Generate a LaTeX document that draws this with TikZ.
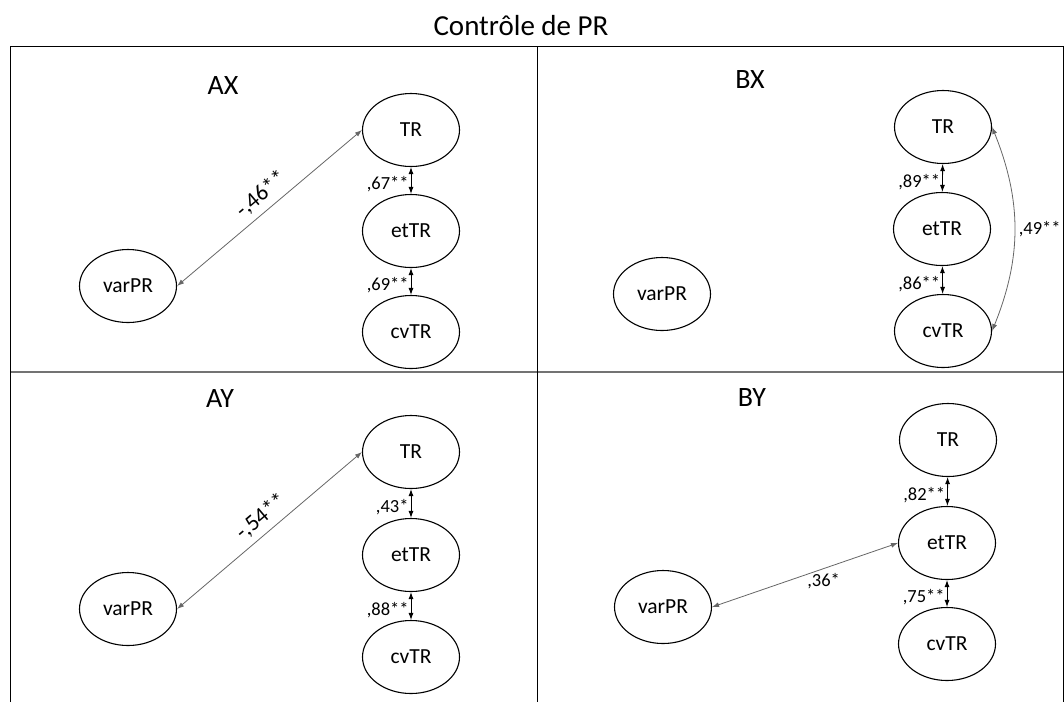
\documentclass[tikz,border=0pt]{standalone}
\usepackage{fontspec}
\setmainfont{Carlito}
\usetikzlibrary{arrows.meta,shapes.geometric}
\begin{document}
\begin{tikzpicture}[x=1pt,y=-1pt,
  lat/.style={draw=black,line width=1.1pt,ellipse,minimum width=97pt,minimum height=73pt,inner sep=0pt,font=\fontsize{21.5}{24}\selectfont},
  frame/.style={draw=black,line width=1pt},
  divider/.style={draw=black!55,line width=1.6pt},
  darr/.style={draw=black,line width=0.9pt,{Latex[length=7pt,width=5pt]}-{Latex[length=7pt,width=5pt]}},
  garr/.style={draw=black!60,line width=0.8pt,{Latex[length=7pt,width=5pt]}-{Latex[length=7pt,width=5pt]}},
  coef/.style={font=\fontsize{18.5}{21}\selectfont,inner sep=1pt},
  bigcoef/.style={font=\fontsize{23}{26}\selectfont,inner sep=2pt},
  panel/.style={font=\fontsize{28}{31}\selectfont},
  ttl/.style={font=\fontsize{29}{32}\selectfont}
]
\useasboundingbox (0,0) rectangle (1064,702);
% frame
\coordinate (fbl) at (10,702);
\coordinate (ftl) at (10,46);
\coordinate (ftr) at (1063,46);
\coordinate (fbr) at (1063,702);
\coordinate (mt) at (537,46);
\coordinate (mb) at (537,702);
\coordinate (hl) at (10,372);
\coordinate (hr) at (1063,372);
\draw[divider] (hl) -- (hr);
\draw[frame] (fbl) -- (ftl) -- (ftr) -- (fbr);
\draw[frame] (mt) -- (mb);
\node[ttl] (title) at (521,26) {Contrôle de PR};

% ---------- AX ----------
\node[panel] (lAX) at (223,86) {AX};
\node[lat] (TR1) at (411,130) {TR};
\node[lat] (et1) at (411,231) {etTR};
\node[lat] (cv1) at (411,332) {cvTR};
\node[lat] (var1) at (128,286) {varPR};
\draw[darr] (TR1) -- (et1) node[coef,pos=0.5,anchor=east,xshift=-1pt,yshift=-4pt] (c1a) {,67**};
\draw[darr] (et1) -- (cv1) node[coef,pos=0.5,anchor=east,xshift=-1pt,yshift=-4pt] (c1b) {,69**};
\draw[garr] (var1.east) -- (TR1.west) node[bigcoef,pos=0.51,sloped,above=4pt] (c1c) {-,46**};

% ---------- BX ----------
\node[panel] (lBX) at (750,80) {BX};
\node[lat] (TR2) at (943,127) {TR};
\node[lat] (et2) at (942,229) {etTR};
\node[lat] (cv2) at (943,331) {cvTR};
\node[lat] (var2) at (662,294) {varPR};
\draw[darr] (TR2) -- (et2) node[coef,pos=0.5,anchor=east,xshift=-1pt,yshift=-4pt] (c2a) {,89**};
\draw[darr] (et2) -- (cv2) node[coef,pos=0.5,anchor=east,xshift=-1pt,yshift=-4pt] (c2b) {,86**};
\draw[garr] (TR2.east) to[bend left=22] node[coef,pos=0.5,anchor=west,xshift=3pt] (c2c) {,49**} (cv2.east);

% ---------- AY ----------
\node[panel] (lAY) at (220,399) {AY};
\node[lat] (TR3) at (411,452) {TR};
\node[lat] (et3) at (411,555) {etTR};
\node[lat] (cv3) at (411,657) {cvTR};
\node[lat] (var3) at (128,609) {varPR};
\draw[darr] (TR3) -- (et3) node[coef,pos=0.5,anchor=east,xshift=-1pt,yshift=-4pt] (c3a) {,43*};
\draw[darr] (et3) -- (cv3) node[coef,pos=0.5,anchor=east,xshift=-1pt,yshift=-4pt] (c3b) {,88**};
\draw[garr] (var3.east) -- (TR3.west) node[bigcoef,pos=0.51,sloped,above=4pt] (c3c) {-,54**};

% ---------- BY ----------
\node[panel] (lBY) at (752,398) {BY};
\node[lat] (TR4) at (948,440) {TR};
\node[lat] (et4) at (947,543) {etTR};
\node[lat] (cv4) at (947,644) {cvTR};
\node[lat] (var4) at (663,607) {varPR};
\draw[darr] (TR4) -- (et4) node[coef,pos=0.5,anchor=east,xshift=-1pt,yshift=-4pt] (c4a) {,82**};
\draw[darr] (et4) -- (cv4) node[coef,pos=0.5,anchor=east,xshift=-1pt,yshift=-4pt] (c4b) {,75**};
\draw[garr] (var4.east) -- (et4.west) node[coef,pos=0.6,below=3pt] (c4c) {,36*};
\end{tikzpicture}
\end{document}
